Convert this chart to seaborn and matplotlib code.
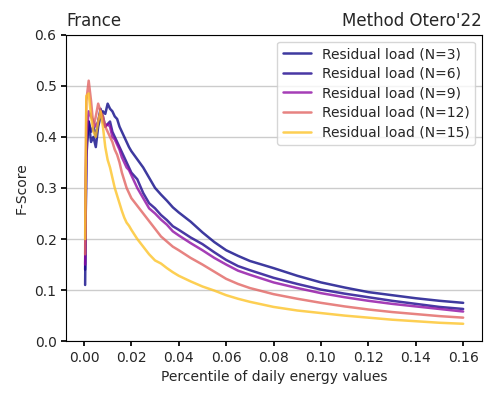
import matplotlib
matplotlib.use("Agg")
import matplotlib.pyplot as plt
import pandas as pd
import seaborn as sns

sns.set_theme(style="white")
plt.rcParams['font.family'] = ['DejaVu Sans']

# percentile of daily energy values (shared x grid)
pct = [0.0005, 0.001, 0.002, 0.003, 0.004, 0.005, 0.006, 0.007, 0.008, 0.009,
       0.010, 0.011, 0.012, 0.013, 0.014, 0.015, 0.016, 0.017, 0.018, 0.019,
       0.020, 0.0225, 0.025, 0.0275, 0.030, 0.0325, 0.035, 0.0375, 0.040, 0.045,
       0.050, 0.055, 0.060, 0.065, 0.070, 0.080, 0.090, 0.100, 0.110, 0.120,
       0.130, 0.140, 0.150, 0.160]

f_n3 = [0.11, 0.38, 0.43, 0.39, 0.40, 0.38, 0.42, 0.44, 0.45, 0.445,
        0.465, 0.455, 0.45, 0.44, 0.435, 0.42, 0.41, 0.40, 0.39, 0.38,
        0.372, 0.356, 0.34, 0.32, 0.30, 0.287, 0.275, 0.262, 0.252, 0.234,
        0.213, 0.194, 0.178, 0.167, 0.157, 0.143, 0.128, 0.115, 0.105, 0.096,
        0.090, 0.084, 0.079, 0.075]
f_n6 = [0.14, 0.36, 0.43, 0.41, 0.42, 0.40, 0.43, 0.455, 0.44, 0.42,
        0.425, 0.43, 0.41, 0.40, 0.39, 0.38, 0.37, 0.36, 0.35, 0.34,
        0.33, 0.317, 0.29, 0.27, 0.26, 0.247, 0.237, 0.225, 0.218, 0.203,
        0.190, 0.174, 0.159, 0.147, 0.139, 0.124, 0.112, 0.101, 0.093, 0.086,
        0.079, 0.073, 0.067, 0.063]
f_n9 = [0.15, 0.40, 0.45, 0.44, 0.43, 0.42, 0.43, 0.45, 0.43, 0.42,
        0.425, 0.42, 0.40, 0.395, 0.385, 0.375, 0.36, 0.35, 0.34, 0.335,
        0.325, 0.30, 0.28, 0.26, 0.25, 0.238, 0.228, 0.215, 0.207, 0.192,
        0.178, 0.163, 0.150, 0.138, 0.130, 0.115, 0.104, 0.094, 0.086, 0.079,
        0.073, 0.068, 0.063, 0.058]
f_n12 = [0.17, 0.47, 0.51, 0.47, 0.42, 0.44, 0.465, 0.45, 0.44, 0.42,
         0.41, 0.40, 0.39, 0.375, 0.365, 0.35, 0.33, 0.315, 0.30, 0.29,
         0.28, 0.265, 0.25, 0.235, 0.22, 0.205, 0.195, 0.185, 0.178, 0.163,
         0.150, 0.136, 0.122, 0.112, 0.104, 0.092, 0.083, 0.075, 0.068, 0.062,
         0.057, 0.053, 0.049, 0.046]
f_n15 = [0.20, 0.48, 0.485, 0.44, 0.41, 0.40, 0.43, 0.45, 0.42, 0.38,
         0.355, 0.34, 0.32, 0.30, 0.285, 0.27, 0.255, 0.242, 0.232, 0.226,
         0.218, 0.2, 0.185, 0.17, 0.158, 0.152, 0.143, 0.135, 0.128, 0.117,
         0.107, 0.099, 0.090, 0.083, 0.077, 0.067, 0.060, 0.055, 0.050, 0.046,
         0.042, 0.039, 0.036, 0.034]

labels = ['Residual load (N=3)', 'Residual load (N=6)', 'Residual load (N=9)',
          'Residual load (N=12)', 'Residual load (N=15)']
colors = ['#0d0887', '#1c068e', '#8f0da4', '#e16462', '#fdc328']

# long format table for seaborn
df = pd.concat([pd.DataFrame({'pct': pct, 'f': vals, 'series': lab})
                for vals, lab in zip([f_n3, f_n6, f_n9, f_n12, f_n15], labels)])

fig, ax = plt.subplots(figsize=(4.98, 3.99), dpi=100)
sns.lineplot(data=df, x='pct', y='f', hue='series', palette=colors,
             linewidth=1.8, alpha=0.8, ax=ax, sort=False, estimator=None)

ax.set_ylim(0, 0.6)
ax.set_xticks([0.0, 0.02, 0.04, 0.06, 0.08, 0.10, 0.12, 0.14, 0.16])
ax.set_yticks([0.0, 0.1, 0.2, 0.3, 0.4, 0.5, 0.6])
ax.yaxis.grid(True, color='#cccccc', linewidth=1)
ax.tick_params(axis='both', which='both', bottom=True, left=True, length=3.5,
               labelsize=10, color='black')
for s in ax.spines.values():
    s.set_color('black')
    s.set_linewidth(0.8)

ax.set_xlabel('Percentile of daily energy values', fontsize=10)
ax.set_ylabel('F-Score', fontsize=10)
ax.set_title('France', loc='left', fontsize=12)
ax.set_title("Method Otero'22", loc='right', fontsize=12)
ax.legend(loc='upper right', fontsize=10, frameon=True, title=None,
          labelspacing=0.4)

fig.subplots_adjust(left=0.133, right=0.968, top=0.913, bottom=0.145)
fig.savefig('out.png', dpi=100)
